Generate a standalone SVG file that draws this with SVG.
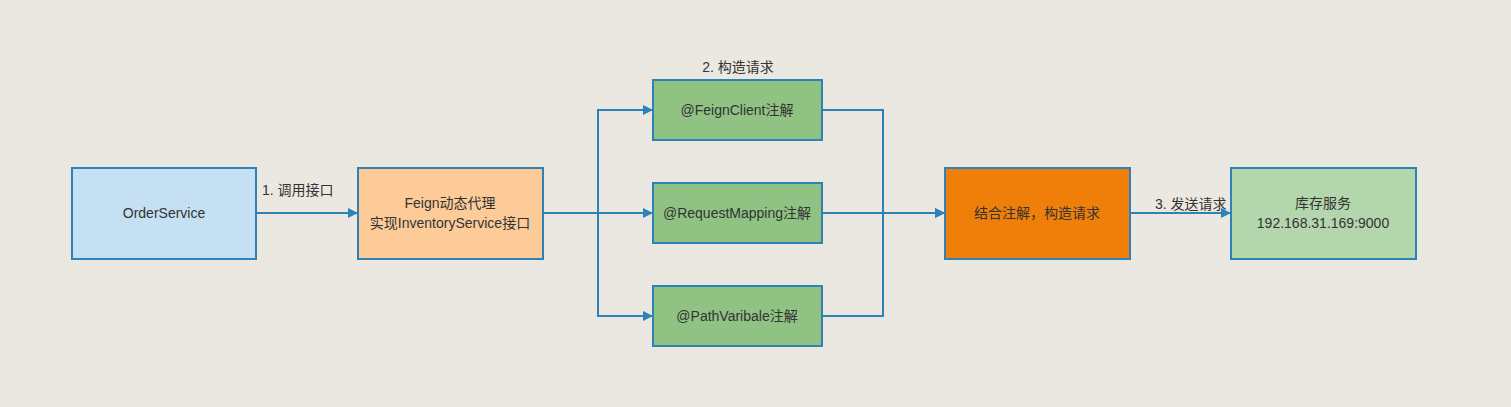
<svg xmlns="http://www.w3.org/2000/svg" width="1511" height="407" viewBox="0 0 1511 407">
<style>
.box{stroke:#2f82b8;stroke-width:2}
.t{font-family:"Liberation Sans","Noto Sans CJK SC",sans-serif;font-size:14px;fill:#333333;text-anchor:middle}
.l{font-family:"Liberation Sans","Noto Sans CJK SC",sans-serif;font-size:14px;fill:#333333}
.c{fill:none;stroke:#2f82b8;stroke-width:2}
</style>
<defs>
<marker id="arr" viewBox="0 0 10 10" refX="9" refY="5" markerWidth="5" markerHeight="5" orient="auto" markerUnits="strokeWidth">
<path d="M0,0 L10,5 L0,10 z" fill="#2f82b8"/>
</marker>
</defs>
<rect width="1511" height="407" fill="#ebe8e1"/>
<g id="connectors">
<path class="c" d="M256,213 L357,213" marker-end="url(#arr)"/>
<path class="c" d="M543,213 L598,213 L598,110 L652,110" marker-end="url(#arr)"/>
<path class="c" d="M543,213 L652,213" marker-end="url(#arr)"/>
<path class="c" d="M598,213 L598,316 L652,316" marker-end="url(#arr)"/>
<path class="c" d="M822,110 L883,110 L883,213 L944,213" marker-end="url(#arr)"/>
<path class="c" d="M822,213 L944,213" marker-end="url(#arr)"/>
<path class="c" d="M822,316 L883,316 L883,213"/>
<path class="c" d="M1130,213 L1230,213" marker-end="url(#arr)"/>
<text class="l" x="262" y="195">1. 调用接口</text>
<text class="t" x="738" y="72">2. 构造请求</text>
<text class="l" x="1155" y="209">3. 发送请求</text>
</g>
<g id="order">
<rect class="box" x="72" y="168" width="184" height="91" fill="#c5e0f2"/>
<text class="t" x="164" y="218">OrderService</text>
</g>
<g id="feign">
<rect class="box" x="358" y="168" width="185" height="91" fill="#fccb98"/>
<text class="t" x="450" y="208">Feign动态代理</text>
<text class="t" x="450" y="228">实现InventoryService接口</text>
</g>
<g id="feignclient">
<rect class="box" x="653" y="80" width="169" height="60" fill="#8fc283"/>
<text class="t" x="737" y="115">@FeignClient注解</text>
</g>
<g id="requestmapping">
<rect class="box" x="653" y="183" width="169" height="60" fill="#8fc283"/>
<text class="t" x="737" y="218">@RequestMapping注解</text>
</g>
<g id="pathvariable">
<rect class="box" x="653" y="286" width="169" height="60" fill="#8fc283"/>
<text class="t" x="737" y="321">@PathVaribale注解</text>
</g>
<g id="combine">
<rect class="box" x="945" y="168" width="185" height="91" fill="#f07f0a"/>
<text class="t" x="1037" y="218">结合注解，构造请求</text>
</g>
<g id="inventory">
<rect class="box" x="1231" y="168" width="185" height="91" fill="#b3d6ad"/>
<text class="t" x="1323" y="208">库存服务</text>
<text class="t" x="1323" y="228">192.168.31.169:9000</text>
</g>
</svg>
